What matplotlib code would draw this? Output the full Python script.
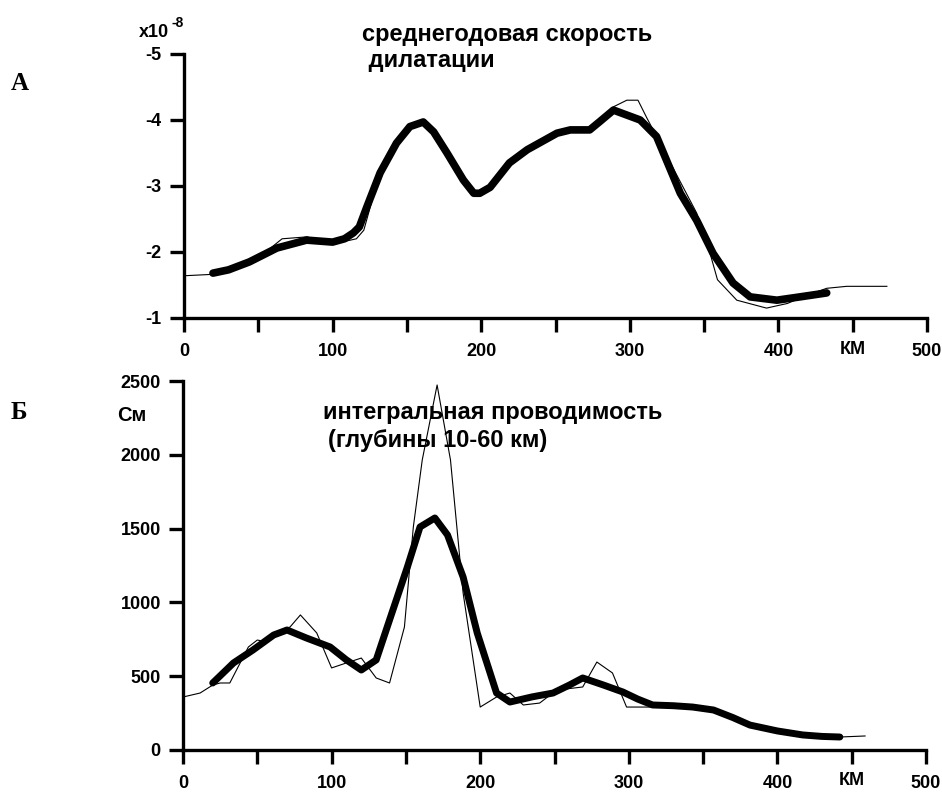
import matplotlib
matplotlib.use('Agg')
import matplotlib.pyplot as plt
import numpy as np

# профиль A: среднегодовая скорость дилатации (x10^-8)
dil_km_raw = [0, 18, 30, 44, 55, 66, 83, 90, 100, 110, 116, 121, 132, 143, 152, 161, 168, 177,
              188, 195, 206, 219, 231, 251, 260, 270, 279, 289, 298, 305.5, 311.5, 345, 352,
              359, 372, 392, 406, 420, 432.5, 446, 473]
dil_raw = [-1.64, -1.66, -1.73, -1.85, -2.0, -2.2, -2.23, -2.17, -2.15, -2.17, -2.2, -2.33,
           -3.22, -3.62, -3.92, -3.98, -3.8, -3.5, -3.1, -2.9, -2.98, -3.35, -3.55, -3.8,
           -3.83, -3.82, -4.0, -4.2, -4.3, -4.3, -4.03, -2.59, -2.14, -1.58, -1.27, -1.15,
           -1.22, -1.35, -1.45, -1.48, -1.48]

dil_km_sm = [19.5, 30, 44, 62.5, 82.5, 100, 108, 114, 118, 123, 132, 143, 152, 161, 168, 177,
             188, 195, 199, 206, 219, 231, 251, 260, 273, 280, 289, 307, 318, 334, 345, 356,
             369.5, 381, 399, 414.5, 432.5]
dil_sm = [-1.68, -1.73, -1.85, -2.06, -2.18, -2.15, -2.2, -2.29, -2.38, -2.68, -3.2, -3.65,
          -3.9, -3.97, -3.82, -3.5, -3.09, -2.89, -2.89, -2.98, -3.35, -3.55, -3.8, -3.85,
          -3.85, -3.98, -4.15, -4.0, -3.75, -2.89, -2.48, -1.98, -1.53, -1.32, -1.27, -1.32,
          -1.38]

# профиль Б: интегральная проводимость, См
cond_km_raw = [0, 11.5, 20, 25, 31.5, 44, 50, 56.5, 63, 72, 79, 90, 100, 110, 120, 130, 139,
               149, 155, 161, 171, 180, 188.5, 200, 211, 220, 229, 240, 251.5, 269, 278.5,
               289, 298.5, 316, 343, 357, 381.5, 400, 417, 442, 459]
cond_raw = [359, 386, 440, 454, 454, 698, 745, 732, 793, 833, 915, 793, 556, 590, 623, 488,
            454, 833, 1511, 1965, 2473, 1965, 1064, 291, 359, 386, 305, 318, 406, 427, 596,
            522, 291, 291, 291, 271, 169, 129, 102, 88, 95]

cond_km_sm = [20, 34, 47, 61, 70, 83, 99, 110, 120, 130, 139, 151, 159.5, 169.5, 178, 188.5,
              198, 211, 220, 235, 249, 260, 269, 283, 296, 306, 316, 330, 343, 357, 370,
              381.5, 400, 417, 430, 442]
cond_sm = [454, 590, 677, 779, 813, 759, 698, 610, 542, 610, 881, 1240, 1511, 1572, 1457,
           1172, 793, 386, 325, 360, 386, 440, 488, 440, 393, 345, 305, 300, 291, 271, 220,
           169, 129, 102, 92, 88]

x_ticks = np.arange(0, 501, 50)
x_labels = ['0', '', '100', '', '200', '', '300', '', '400', 'КМ', '500']
dil_ticks = [-5, -4, -3, -2, -1]
cond_ticks = [0, 500, 1000, 1500, 2000, 2500]

W, H = 942, 794
plt.rcParams['font.family'] = ['Liberation Sans', 'DejaVu Sans']
plt.rcParams['font.weight'] = 'bold'

fig = plt.figure(figsize=(W / 100, H / 100), dpi=100)


def px(x, y):
    return x / W, 1 - y / H


def style_axes(ax):
    for s in ['top', 'right']:
        ax.spines[s].set_visible(False)
    for s in ['left', 'bottom']:
        ax.spines[s].set_linewidth(2.4)
    ax.tick_params(direction='out', length=10, width=2.4, labelsize=13, pad=6)
    ax.tick_params(axis='x', pad=8)
    ax.set_xlim(0, 500)
    ax.set_xticks(x_ticks)
    ax.set_xticklabels(x_labels, fontweight='bold')
    # подпись "КМ" чуть выше чисел
    ax.get_xticklabels()[9].set_y(0.008)


# верхний график
ax1 = fig.add_axes([184 / W, (H - 318) / H, 743 / W, 264 / H])
ax1.plot(dil_km_raw, dil_raw, color='black', lw=0.8)
ax1.plot(dil_km_sm, dil_sm, color='black', lw=5.5, solid_capstyle='round', solid_joinstyle='round')
style_axes(ax1)
ax1.set_ylim(-1, -5)
ax1.set_yticks(dil_ticks)
ax1.set_yticklabels([str(v) for v in dil_ticks], fontweight='bold')

# нижний график
ax2 = fig.add_axes([183 / W, (H - 750) / H, 743 / W, 369 / H])
ax2.plot(cond_km_raw, cond_raw, color='black', lw=0.8, zorder=5)
ax2.plot(cond_km_sm, cond_sm, color='black', lw=5, solid_capstyle='round', solid_joinstyle='round')
style_axes(ax2)
ax2.set_ylim(0, 2500)
ax2.set_yticks(cond_ticks)
ax2.set_yticklabels([str(v) for v in cond_ticks], fontweight='bold')
for line in ax2.lines:
    line.set_clip_on(False)

# подписи
fig.text(*px(11, 84), 'А', family='Liberation Serif', fontweight='bold', fontsize=18, va='center')
fig.text(*px(11, 412), 'Б', family='Liberation Serif', fontweight='bold', fontsize=18, va='center')

fig.text(*px(139, 37), 'x10', fontsize=13, fontweight='bold', va='baseline')
fig.text(*px(172, 27), '-8', fontsize=10, fontweight='bold', va='baseline')

fig.text(*px(362, 34), 'среднегодовая скорость', fontsize=17, fontweight='bold', va='center')
fig.text(*px(362, 61), ' дилатации', fontsize=17, fontweight='bold', va='center')

fig.text(*px(117, 415), 'См', fontsize=14.5, fontweight='bold', va='center')
fig.text(*px(323, 413), 'интегральная проводимость', fontsize=17, fontweight='bold',
         va='center', zorder=0)
fig.text(*px(328, 440), '(глубины 10-60 км)', fontsize=17, fontweight='bold',
         va='center', zorder=0)

fig.savefig('out.png', dpi=100)
